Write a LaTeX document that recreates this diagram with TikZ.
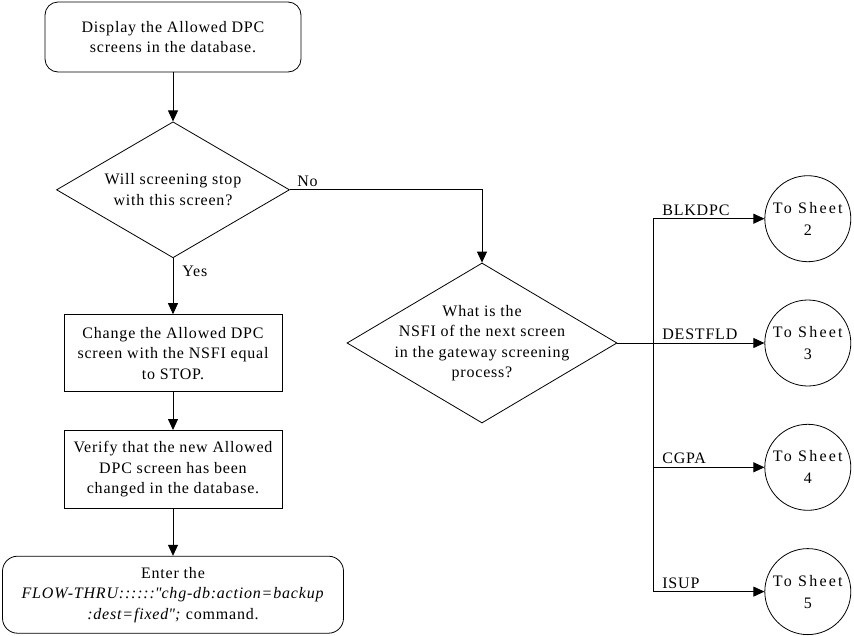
\documentclass[tikz,border=0pt]{standalone}
\usepackage{fontspec}
\setmainfont{Liberation Serif}[LetterSpace=5]
\usetikzlibrary{shapes,arrows.meta,positioning,calc}

\begin{document}
\begin{tikzpicture}[
  x=1pt, y=-1pt,
  every node/.style={font=\fontsize{16}{20.5}\selectfont},
  terminal/.style={rectangle, draw, rounded corners=13pt, align=center, line width=0.8pt},
  process/.style={rectangle, draw, minimum width=218pt, align=center, line width=0.8pt, inner sep=2pt},
  decision/.style={diamond, draw, inner sep=0pt, line width=0.8pt},
  sheet/.style={circle, draw, minimum size=86pt, inner sep=0pt, align=center, line width=0.8pt,
    font=\fontsize{16}{22}\selectfont\addfontfeature{LetterSpace=14}},
  arrow/.style={-{Triangle[length=11pt,width=10pt]}, line width=0.8pt},
  line/.style={line width=0.8pt},
  lbl/.style={inner sep=3pt}
]
  \useasboundingbox (0,0) rectangle (854,635);

  % left column
  \node[terminal, minimum width=256pt, minimum height=70pt] (display) at (173,37) {Display the Allowed DPC\\screens in the database.};
  \node[decision, minimum width=233pt, minimum height=136pt, below=49pt of display,
        label={[align=center]center:Will screening stop\\with this screen?}] (stop) {};
  \node[process, minimum height=77pt, below=56pt of stop] (change) {Change the Allowed DPC\\screen with the NSFI equal\\to STOP.};
  \node[process, minimum height=78pt, below=38pt of change] (verify) {Verify that the new Allowed\\DPC screen has been\\changed in the database.};
  \node[terminal, rounded corners=15pt, minimum width=341pt, minimum height=77pt, below=47pt of verify] (enter)
    {Enter the\\\textit{FLOW-THRU::::::\textquotedbl chg-db:action=backup}\\\textit{:dest=fixed\textquotedbl;} command.};

  % right side
  \node[decision, minimum width=270pt, minimum height=160pt,
        label={[align=center]center:What is the\\NSFI of the next screen\\in the gateway screening\\process?}] (nsfi) at (482,343) {};
  \node[sheet, right=147pt of nsfi] (sheet3) {To Sheet\\3};
  \node[sheet, above=37.5pt of sheet3] (sheet2) {To Sheet\\2};
  \node[sheet, below=37.5pt of sheet3] (sheet4) {To Sheet\\4};
  \node[sheet, below=37.5pt of sheet4] (sheet5) {To Sheet\\5};
  \coordinate (trunk) at ($(nsfi.east)+(36,0)$);

  \draw[arrow] (display) -- (stop);
  \draw[arrow] (stop) -- node[lbl, pos=0.23, right=6pt] {Yes} (change);
  \draw[arrow] (stop.east) -| node[lbl, pos=0.046, above] {No} (nsfi.north);
  \draw[arrow] (change) -- (verify);
  \draw[arrow] (verify) -- (enter);

  \draw[line] (nsfi.east) -- (trunk);
  \draw[line] (trunk |- sheet2) -- (trunk |- sheet5);
  \foreach \s/\t in {2/BLKDPC, 3/DESTFLD, 4/CGPA, 5/ISUP}
    \draw[arrow] (trunk |- sheet\s) -- node[lbl, pos=0.05, anchor=south west] {\t} (sheet\s);
\end{tikzpicture}
\end{document}
